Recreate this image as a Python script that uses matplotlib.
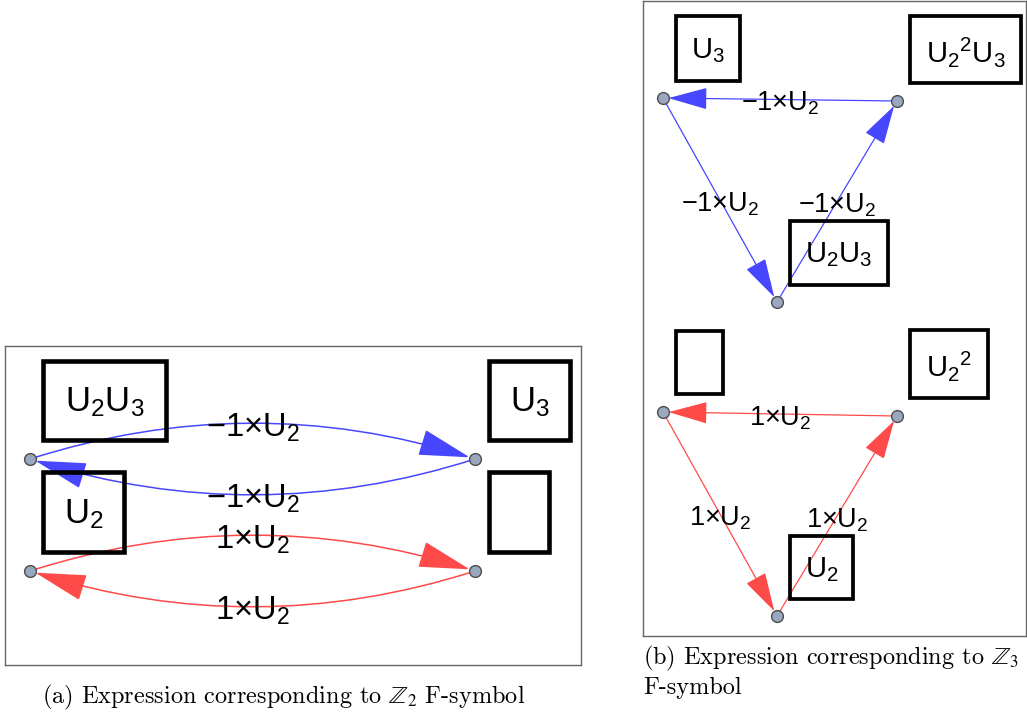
import matplotlib.pyplot as plt
import numpy as np
from matplotlib.patches import FancyArrowPatch, Rectangle, ArrowStyle

plt.rcParams['font.family'] = ['Liberation Sans', 'DejaVu Sans']

BLUE = '#4747ff'
RED = '#ff4a4a'
NODE_FACE = '#9aa7bf'
NODE_EDGE = '#4d4d4d'

# ---- panel (a): Z2 (pixel coordinates, y downwards)
z2_nodes = {'a': (30, 459), 'b': (475, 459), 'c': (30, 571), 'd': (475, 571)}
z2_edges = [
    ('a', 'b', BLUE, '−1×$\\mathregular{U_2}$'),
    ('b', 'a', BLUE, '−1×$\\mathregular{U_2}$'),
    ('c', 'd', RED, '1×$\\mathregular{U_2}$'),
    ('d', 'c', RED, '1×$\\mathregular{U_2}$'),
]
z2_boxes = [
    (43, 361, 166, 440, '$\\mathregular{U_2U_3}$'),
    (43, 472, 124, 552, '$\\mathregular{U_2}$'),
    (489, 361, 570, 440, '$\\mathregular{U_3}$'),
    (489, 472, 549, 552, ''),
]

# ---- panel (b): Z3
z3_nodes = {'a': (663, 98), 'b': (897, 101), 'c': (777, 302),
            'd': (663, 412), 'e': (897, 416), 'f': (777, 616)}
z3_edges = [
    ('b', 'a', BLUE, '−1×$\\mathregular{U_2}$'),
    ('a', 'c', BLUE, '−1×$\\mathregular{U_2}$'),
    ('c', 'b', BLUE, '−1×$\\mathregular{U_2}$'),
    ('e', 'd', RED, '1×$\\mathregular{U_2}$'),
    ('d', 'f', RED, '1×$\\mathregular{U_2}$'),
    ('f', 'e', RED, '1×$\\mathregular{U_2}$'),
]
z3_boxes = [
    (676, 16, 740, 81, '$\\mathregular{U_3}$'),
    (910, 16, 1021, 83, '$\\mathregular{{U_2}^2U_3}$'),
    (790, 221, 888, 285, '$\\mathregular{U_2U_3}$'),
    (676, 331, 723, 394, ''),
    (910, 330, 988, 398, '$\\mathregular{{U_2}^2}$'),
    (790, 536, 853, 599, '$\\mathregular{U_2}$'),
]

W, H = 1027, 715
fig = plt.figure(figsize=(W / 100, H / 100), dpi=100)


def panel(frame, nodes, edges, boxes, rad, lw, hl, hw, fs_lab, fs_box, box_lw):
    x0, y0, x1, y1 = frame
    ax = fig.add_axes([x0 / W, 1 - y1 / H, (x1 - x0) / W, (y1 - y0) / H])
    ax.set_xlim(x0, x1)
    ax.set_ylim(y1, y0)
    ax.set_xticks([])
    ax.set_yticks([])
    for s in ax.spines.values():
        s.set_color('#666666')
        s.set_linewidth(1.0)

    for bx0, by0, bx1, by1, txt in boxes:
        ax.add_patch(Rectangle((bx0, by0), bx1 - bx0, by1 - by0, fill=False,
                               ec='black', lw=box_lw, zorder=3))
        if txt:
            ax.text((bx0 + bx1) / 2, (by0 + by1) / 2 + 2, txt, fontsize=fs_box,
                    ha='center', va='center', zorder=4)

    for src, dst, col, lab in edges:
        p, q = np.array(nodes[src], float), np.array(nodes[dst], float)
        dx, dy = q - p
        arrow = FancyArrowPatch(p, q, connectionstyle=f'arc3,rad={rad}',
                                arrowstyle=ArrowStyle('-|>', head_length=hl, head_width=hw),
                                mutation_scale=1, shrinkA=0, shrinkB=4,
                                color=col, lw=lw, zorder=2)
        ax.add_patch(arrow)
        mid = (p + q) / 2 + np.array([-rad * dy / 2, rad * dx / 2])
        ax.text(mid[0], mid[1] + 4, lab, fontsize=fs_lab, ha='center', va='center', zorder=4)

    xs = [v[0] for v in nodes.values()]
    ys = [v[1] for v in nodes.values()]
    ax.plot(xs, ys, 'o', ms=8.5, mfc=NODE_FACE, mec=NODE_EDGE, mew=1.0, zorder=5)
    return ax


panel((5, 346, 581, 665), z2_nodes, z2_edges, z2_boxes, -0.16, 1.1, 33, 8.5, 23.5, 25, 3.3)
panel((643, 1, 1026, 636), z3_nodes, z3_edges, z3_boxes, 0.0, 0.9, 25, 7, 19.5, 21, 2.7)

cap = dict(family='cmr10', math_fontfamily='stix', fontsize=17.5)
fig.text(284 / W, 1 - 703 / H, '(a) Expression corresponding to $\\mathbb{Z}_2$ F-symbol',
         ha='center', va='baseline', **cap)
fig.text(643 / W, 1 - 664 / H, '(b) Expression corresponding to $\\mathbb{Z}_3$',
         ha='left', va='baseline', **cap)
fig.text(643 / W, 1 - 694 / H, 'F-symbol', ha='left', va='baseline', **cap)

fig.savefig('out.png', dpi=100)
